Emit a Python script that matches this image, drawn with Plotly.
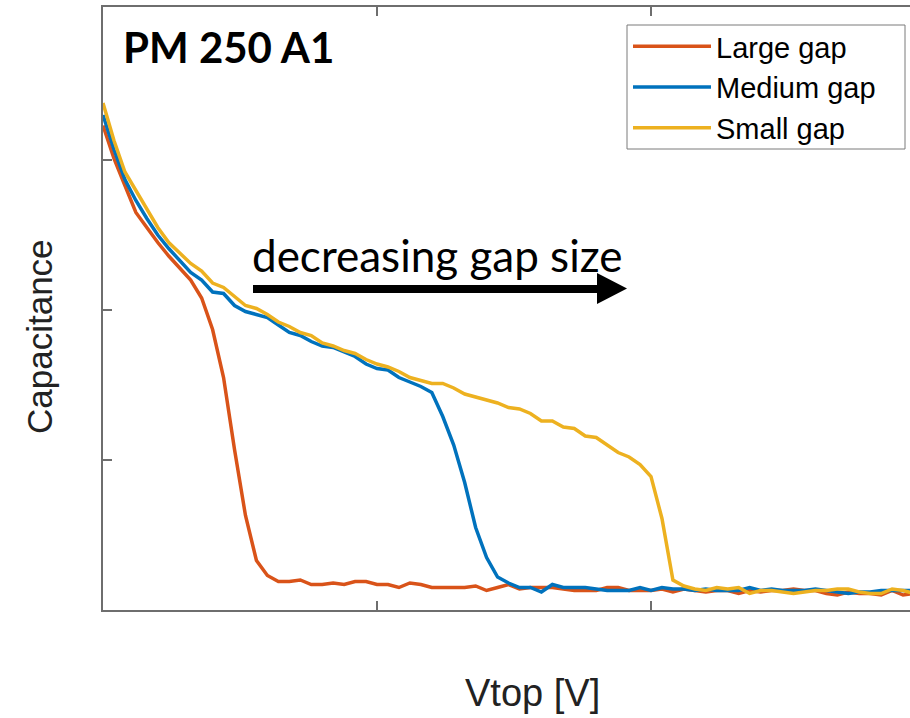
import plotly.graph_objects as go

# Top-electrode bias sweep (V)
vtop = [0.00, 0.04, 0.08, 0.12, 0.16, 0.20, 0.24, 0.28, 0.32, 0.36,
        0.40, 0.44, 0.48, 0.52, 0.56, 0.60, 0.64, 0.68, 0.72, 0.76,
        0.80, 0.84, 0.88, 0.92, 0.96, 1.00, 1.04, 1.08, 1.12, 1.16,
        1.20, 1.24, 1.28, 1.32, 1.36, 1.40, 1.44, 1.48, 1.52, 1.56,
        1.60, 1.64, 1.68, 1.72, 1.76, 1.80, 1.84, 1.88, 1.92, 1.96,
        2.00, 2.04, 2.08, 2.12, 2.16, 2.20, 2.24, 2.28, 2.32, 2.36,
        2.40, 2.44, 2.48, 2.52, 2.56, 2.60, 2.64, 2.68, 2.72, 2.76,
        2.80, 2.84, 2.88, 2.92, 2.96]

# Capacitance (arbitrary units) for each gap size
cap_large = [3.23, 3.01, 2.83, 2.65, 2.55, 2.45, 2.36, 2.28, 2.20, 2.08,
             1.87, 1.55, 1.07, 0.63, 0.33, 0.23, 0.19, 0.19, 0.20, 0.17,
             0.17, 0.18, 0.17, 0.19, 0.19, 0.17, 0.17, 0.15, 0.18, 0.17,
             0.15, 0.15, 0.15, 0.15, 0.16, 0.13, 0.15, 0.17, 0.14, 0.15,
             0.15, 0.15, 0.14, 0.13, 0.13, 0.13, 0.15, 0.15, 0.13, 0.13,
             0.13, 0.14, 0.12, 0.14, 0.13, 0.12, 0.13, 0.13, 0.11, 0.13,
             0.12, 0.13, 0.13, 0.14, 0.13, 0.13, 0.11, 0.10, 0.12, 0.11,
             0.11, 0.10, 0.13, 0.10, 0.11]

cap_medium = [3.30, 3.07, 2.87, 2.73, 2.61, 2.50, 2.41, 2.33, 2.25, 2.20,
              2.12, 2.11, 2.03, 1.99, 1.97, 1.95, 1.90, 1.85, 1.83, 1.79,
              1.76, 1.75, 1.72, 1.69, 1.64, 1.61, 1.60, 1.55, 1.52, 1.49,
              1.45, 1.29, 1.10, 0.85, 0.55, 0.35, 0.22, 0.18, 0.15, 0.15,
              0.12, 0.17, 0.15, 0.15, 0.15, 0.14, 0.13, 0.13, 0.13, 0.15,
              0.13, 0.15, 0.14, 0.14, 0.13, 0.14, 0.13, 0.13, 0.13, 0.15,
              0.13, 0.14, 0.13, 0.13, 0.13, 0.14, 0.13, 0.12, 0.11, 0.12,
              0.12, 0.13, 0.13, 0.13, 0.13]

cap_small = [3.38, 3.13, 2.92, 2.80, 2.67, 2.55, 2.45, 2.38, 2.31, 2.26,
             2.18, 2.15, 2.09, 2.03, 2.01, 1.97, 1.92, 1.89, 1.85, 1.83,
             1.78, 1.76, 1.73, 1.71, 1.67, 1.64, 1.62, 1.59, 1.55, 1.53,
             1.51, 1.51, 1.48, 1.44, 1.42, 1.40, 1.38, 1.35, 1.34, 1.31,
             1.26, 1.26, 1.22, 1.21, 1.16, 1.15, 1.10, 1.05, 1.02, 0.97,
             0.89, 0.61, 0.20, 0.16, 0.14, 0.13, 0.15, 0.14, 0.15, 0.11,
             0.13, 0.13, 0.12, 0.11, 0.12, 0.13, 0.13, 0.14, 0.14, 0.12,
             0.11, 0.11, 0.14, 0.13, 0.11]

series = [
    ("Large gap", cap_large, "#D95319"),
    ("Medium gap", cap_medium, "#0072BD"),
    ("Small gap", cap_small, "#EDB120"),
]

fig = go.Figure()
for name, values, color in series:
    fig.add_trace(go.Scatter(x=vtop, y=values, mode="lines", name=name,
                             line=dict(color=color, width=3.5)))

W, H = 910, 718
L, R, T, B = 103, 0, 7, 108
pw, ph = W - L - R, H - T - B


def px(x):
    return (x - L) / pw


def py(y):
    return (H - B - y) / ph


axis_color = "#6e6e6e"
fig.update_layout(
    width=W, height=H,
    margin=dict(l=L, r=R, t=T, b=B),
    plot_bgcolor="white", paper_bgcolor="white",
    showlegend=True,
    legend=dict(
        x=px(628), y=py(21), xanchor="left", yanchor="top",
        bgcolor="rgba(0,0,0,0)", borderwidth=0,
        font=dict(family="Liberation Sans", size=29, color="black"),
        itemwidth=78, tracegroupgap=0,
    ),
    xaxis=dict(range=[0, 807 / 274], tickvals=[1, 2], showticklabels=False,
               ticks="inside", ticklen=9, tickwidth=1.5, tickcolor=axis_color,
               showline=True, linecolor=axis_color, linewidth=1.5,
               mirror="ticks", showgrid=False, zeroline=False),
    yaxis=dict(range=[0, 603 / 150], tickvals=[1, 2, 3], showticklabels=False,
               ticks="inside", ticklen=9, tickwidth=1.5, tickcolor=axis_color,
               showline=True, linecolor=axis_color, linewidth=1.5,
               mirror=False, showgrid=False, zeroline=False),
)

# Legend frame
fig.add_shape(type="rect", xref="paper", yref="paper", layer="below",
              x0=px(627), x1=px(905), y0=py(25), y1=py(149),
              fillcolor="white", line=dict(color="#7a7a7a", width=1))

fig.add_annotation(text="Capacitance", xref="paper", yref="paper",
                   x=px(40), y=py(337), xanchor="center", yanchor="middle",
                   textangle=-90, showarrow=False,
                   font=dict(family="Liberation Sans", size=35, color="#222222"))
fig.add_annotation(text="Vtop [V]", xref="paper", yref="paper",
                   x=px(532), y=py(693), xanchor="center", yanchor="middle",
                   showarrow=False,
                   font=dict(family="Liberation Sans", size=38, color="#222222"))
fig.add_annotation(text="<b>PM 250 A1</b>", xref="paper", yref="paper",
                   x=px(121), y=py(47), xanchor="left", yanchor="middle",
                   showarrow=False,
                   font=dict(family="Lato", size=42, color="black"))
fig.add_annotation(text="decreasing gap size", xref="paper", yref="paper",
                   x=px(250), y=py(255), xanchor="left", yanchor="middle",
                   showarrow=False,
                   font=dict(family="Lato", size=44, color="black"))

# Arrow under the label: thick shaft plus a filled head
fig.add_shape(type="line", xref="paper", yref="paper",
              x0=px(253), x1=px(600), y0=py(289), y1=py(289),
              line=dict(color="black", width=8))
fig.add_shape(type="path", xref="paper", yref="paper",
              path=f"M {px(597)} {py(273)} L {px(627)} {py(288.5)} L {px(597)} {py(304)} Z",
              fillcolor="black", line=dict(color="black", width=0))

fig.write_html("out.html")
